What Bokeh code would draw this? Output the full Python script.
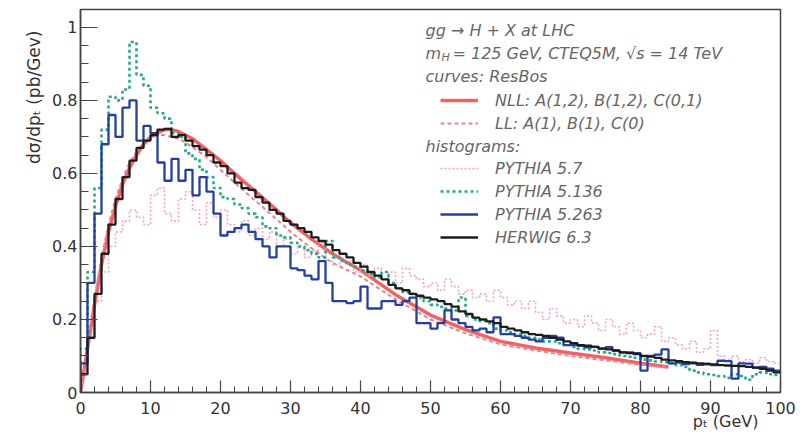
import numpy as np
from bokeh.plotting import figure
from bokeh.models import (Label, Range1d, FixedTicker, CustomJSTickFormatter,
                          Legend, LegendItem, Title)
from bokeh.embed import file_html
from bokeh.resources import INLINE

# ---------------- data ----------------
bin_edges = list(range(0, 101))   # pT bins of 1 GeV, 0..100

# ResBos curves
nll_pt = [0, 0.5, 1, 1.5, 2, 3, 4, 5, 6, 7, 8, 9, 10, 11, 12, 13, 14, 15, 16, 18, 20,
          22, 25, 28, 30, 33, 36, 40, 45, 50, 55, 60, 65, 70, 75, 80, 84]
nll_val = [0, 0.06, 0.12, 0.18, 0.24, 0.35, 0.44, 0.51, 0.57, 0.615, 0.65, 0.68, 0.70,
           0.712, 0.72, 0.72, 0.715, 0.705, 0.695, 0.665, 0.635, 0.60, 0.55, 0.50, 0.465,
           0.42, 0.38, 0.335, 0.268, 0.212, 0.172, 0.140, 0.122, 0.108, 0.095, 0.080, 0.070]
ll_pt = [0, 0.5, 1, 1.5, 2, 3, 4, 5, 6, 7, 8, 9, 10, 11, 12, 13, 14, 15, 16, 18, 20,
         22, 25, 28, 30, 33, 36, 40, 45, 50, 55, 60, 65, 70, 75, 80, 84]
ll_val = [0, 0.07, 0.14, 0.20, 0.26, 0.37, 0.46, 0.53, 0.585, 0.63, 0.66, 0.685, 0.70,
          0.705, 0.705, 0.70, 0.695, 0.685, 0.672, 0.645, 0.61, 0.575, 0.525, 0.475, 0.44,
          0.395, 0.355, 0.318, 0.255, 0.200, 0.162, 0.132, 0.115, 0.100, 0.088, 0.076, 0.068]

# histograms (one value per 1 GeV bin)
pythia_57 = [0.05, 0.15, 0.25, 0.33, 0.40, 0.44, 0.47, 0.50, 0.48, 0.46,
             0.54, 0.56, 0.49, 0.47, 0.53, 0.55, 0.50, 0.46, 0.52, 0.48,
             0.50, 0.46, 0.44, 0.47, 0.43, 0.45, 0.42, 0.44, 0.40, 0.42,
             0.38, 0.40, 0.37, 0.39, 0.41, 0.36, 0.35, 0.38, 0.36, 0.33,
             0.35, 0.32, 0.34, 0.31, 0.33, 0.30, 0.34, 0.32, 0.31, 0.29,
             0.30, 0.28, 0.31, 0.29, 0.27, 0.28, 0.26, 0.27, 0.25, 0.28,
             0.26, 0.24, 0.25, 0.23, 0.25, 0.22, 0.20, 0.23, 0.21, 0.19,
             0.20, 0.18, 0.21, 0.19, 0.17, 0.20, 0.18, 0.16, 0.19, 0.17,
             0.15, 0.16, 0.18, 0.14, 0.15, 0.13, 0.12, 0.14, 0.11, 0.12,
             0.17, 0.10, 0.09, 0.10, 0.085, 0.09, 0.08, 0.095, 0.085, 0.08]
pythia_5136 = [0.12, 0.33, 0.56, 0.72, 0.81, 0.80, 0.83, 0.96, 0.87, 0.84,
               0.78, 0.765, 0.75, 0.71, 0.70, 0.655, 0.64, 0.61, 0.59, 0.56,
               0.535, 0.53, 0.515, 0.505, 0.49, 0.48, 0.455, 0.45, 0.43, 0.425,
               0.41, 0.40, 0.39, 0.38, 0.37, 0.415, 0.37, 0.36, 0.35, 0.345,
               0.335, 0.325, 0.315, 0.33, 0.30, 0.285, 0.275, 0.27, 0.26, 0.25,
               0.24, 0.235, 0.23, 0.225, 0.26, 0.21, 0.20, 0.195, 0.19, 0.175,
               0.17, 0.165, 0.16, 0.155, 0.15, 0.145, 0.14, 0.14, 0.135, 0.13,
               0.125, 0.12, 0.118, 0.115, 0.11, 0.108, 0.105, 0.10, 0.098, 0.095,
               0.09, 0.088, 0.085, 0.083, 0.08, 0.075, 0.07, 0.06, 0.055, 0.05,
               0.048, 0.045, 0.04, 0.05, 0.045, 0.035, 0.05, 0.055, 0.05, 0.048]
pythia_5263 = [0.08, 0.30, 0.49, 0.68, 0.76, 0.70, 0.78, 0.80, 0.69, 0.73,
               0.71, 0.63, 0.58, 0.64, 0.58, 0.61, 0.54, 0.59, 0.55, 0.49,
               0.43, 0.44, 0.45, 0.46, 0.44, 0.42, 0.40, 0.37, 0.40, 0.40,
               0.34, 0.335, 0.32, 0.31, 0.36, 0.30, 0.25, 0.25, 0.245, 0.25,
               0.29, 0.23, 0.23, 0.25, 0.25, 0.24, 0.25, 0.26, 0.19, 0.19,
               0.175, 0.19, 0.225, 0.20, 0.19, 0.18, 0.17, 0.175, 0.165, 0.206,
               0.16, 0.16, 0.155, 0.15, 0.145, 0.14, 0.15, 0.155, 0.15, 0.13,
               0.13, 0.128, 0.124, 0.125, 0.12, 0.124, 0.115, 0.11, 0.11, 0.108,
               0.06, 0.10, 0.104, 0.118, 0.08, 0.082, 0.078, 0.08, 0.076, 0.078,
               0.075, 0.087, 0.086, 0.038, 0.08, 0.079, 0.068, 0.07, 0.065, 0.06]
herwig_63 = [0.05, 0.15, 0.27, 0.38, 0.46, 0.53, 0.59, 0.635, 0.67, 0.69,
             0.705, 0.72, 0.722, 0.70, 0.705, 0.69, 0.675, 0.665, 0.65, 0.63,
             0.62, 0.60, 0.575, 0.56, 0.555, 0.535, 0.52, 0.50, 0.49, 0.47,
             0.46, 0.45, 0.44, 0.425, 0.415, 0.405, 0.39, 0.38, 0.37, 0.355,
             0.345, 0.33, 0.32, 0.31, 0.295, 0.285, 0.28, 0.27, 0.265, 0.26,
             0.255, 0.25, 0.242, 0.235, 0.222, 0.215, 0.205, 0.20, 0.195, 0.19,
             0.18, 0.175, 0.17, 0.165, 0.16, 0.158, 0.155, 0.15, 0.145, 0.14,
             0.135, 0.13, 0.128, 0.125, 0.12, 0.118, 0.115, 0.11, 0.108, 0.105,
             0.10, 0.098, 0.095, 0.09, 0.088, 0.086, 0.083, 0.082, 0.08, 0.078,
             0.077, 0.075, 0.074, 0.073, 0.072, 0.07, 0.068, 0.065, 0.06, 0.055]

x_major = [0, 10, 20, 30, 40, 50, 60, 70, 80, 90, 100]
x_minor = list(range(0, 101, 2))
y_major = [0, 0.2, 0.4, 0.6, 0.8, 1.0]
y_minor = [round(0.05 * i, 2) for i in range(0, 21)]

x_title = "p\u209c (GeV)"
y_title = "d\u03c3/dp\u209c (pb/Gev)"

# ---------------- figure ----------------
FONT = "DejaVu Sans"
p = figure(width=804, height=433, output_backend="svg", toolbar_location=None,
           x_range=Range1d(0, 100), y_range=Range1d(0, 1.049),
           min_border_left=80, min_border_right=24, min_border_top=9,
           min_border_bottom=41)
p.background_fill_color = "white"
p.border_fill_color = "white"
p.outline_line_color = "#444444"
p.outline_line_width = 1.5
p.xgrid.visible = False
p.ygrid.visible = False

for ax in (p.xaxis[0], p.yaxis[0]):
    ax.axis_line_color = "#444444"
    ax.axis_line_width = 1.5
    ax.major_tick_line_color = "#444444"
    ax.minor_tick_line_color = "#444444"
    ax.major_tick_line_width = 1.2
    ax.minor_tick_line_width = 1.0
    ax.major_tick_out = 0
    ax.minor_tick_out = 0
    ax.major_label_text_font = FONT
    ax.major_label_text_font_size = "16px"
    ax.major_label_text_color = "#333333"
    ax.formatter = CustomJSTickFormatter(code="return tick.toString();")

p.xaxis.ticker = FixedTicker(ticks=x_major, minor_ticks=x_minor)
p.xaxis.major_tick_in = 12
p.xaxis.minor_tick_in = 6
p.xaxis.major_label_standoff = 9
p.yaxis.ticker = FixedTicker(ticks=y_major, minor_ticks=y_minor)
p.yaxis.major_tick_in = 17
p.yaxis.minor_tick_in = 8
p.yaxis.major_label_standoff = 3

# axis titles (ROOT style: at the far end of each axis)
p.add_layout(Title(text=x_title, align="right", vertical_align="top",
                   text_font=FONT, text_font_size="16px", text_font_style="normal",
                   text_color="#333333", standoff=-10, offset=22), "below")
p.add_layout(Title(text=y_title, align="right", vertical_align="bottom",
                   text_font=FONT, text_font_size="17px", text_font_style="normal",
                   text_color="#333333", standoff=11, offset=21), "left")

# curves
r_nll = p.line(nll_pt, nll_val, line_color="#f05252", line_width=3.5, line_alpha=0.9)
r_ll = p.line(ll_pt, ll_val, line_color="#f07f92", line_width=2, line_dash="4 3")


def hist(vals, **kw):
    xs = [bin_edges[0]] + bin_edges
    ys = [0] + list(vals) + [vals[-1]]
    return p.step(xs, ys, mode="after", **kw)


r_p57 = hist(pythia_57, line_color="#f2a2c6", line_width=1.6, line_dash="2 2")
r_p136 = hist(pythia_5136, line_color="#2aa88c", line_width=2.6, line_dash="3 3")
r_p263 = hist(pythia_5263, line_color="#243f9e", line_width=2.3)
r_hw = hist(herwig_63, line_color="#1c1c1c", line_width=2.3)

# ---------------- legend ----------------
def make_legend(items, loc):
    lg = Legend(items=items, location=loc, border_line_color=None,
                background_fill_alpha=0, padding=0, margin=0, spacing=3,
                label_height=20, glyph_height=20, glyph_width=38, label_standoff=17,
                label_text_font=FONT, label_text_font_size="16px",
                label_text_font_style="italic", label_text_color="#666666",
                label_text_baseline="middle")
    p.add_layout(lg)


make_legend([LegendItem(label="NLL: A(1,2), B(1,2), C(0,1)", renderers=[r_nll]),
             LegendItem(label="LL: A(1), B(1), C(0)", renderers=[r_ll])], (360, 259))
make_legend([LegendItem(label="PYTHIA 5.7", renderers=[r_p57]),
             LegendItem(label="PYTHIA 5.136", renderers=[r_p136]),
             LegendItem(label="PYTHIA 5.263", renderers=[r_p263]),
             LegendItem(label="HERWIG 6.3", renderers=[r_hw])], (360, 145))


def txt(sx, sy, s, size="16px"):
    p.add_layout(Label(x=sx, y=sy, x_units="screen", y_units="screen", text=s,
                       text_font=FONT, text_font_size=size, text_font_style="italic",
                       text_color="#666666", text_align="left", text_baseline="middle"))


txt(345, 362, "gg \u2192 H + X at LHC")
txt(345, 339, "m")
txt(361, 335, "H", size="11px")
txt(372, 339, "= 125 GeV, CTEQ5M, \u221as = 14 TeV")
txt(345, 316, "curves: ResBos")
txt(345, 246, "histograms:")

open("out.html", "w").write(file_html(p, INLINE))
